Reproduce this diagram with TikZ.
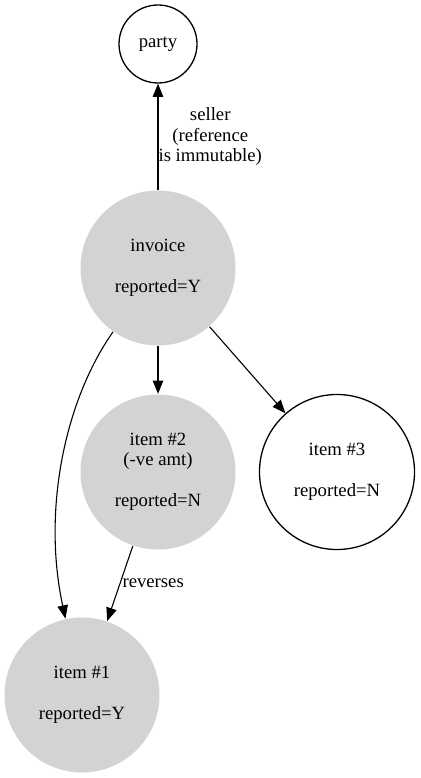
\documentclass[tikz,border=0pt]{standalone}
\usepackage{fontspec}
\setmainfont{Liberation Serif}
\usetikzlibrary{arrows.meta}
\definecolor{nodegray}{RGB}{211,211,211}
\begin{document}
\begin{tikzpicture}[x=1pt, y=-1pt,
state/.style={circle, draw, line width=1.3pt, minimum size=155pt, inner sep=0pt, align=center, font=\fontsize{18.7}{20.5}\selectfont},
done/.style={state, draw=none, fill=nodegray},
edge/.style={line width=1.1pt, -{Triangle[length=13.3pt, width=10.5pt]}},
lbl/.style={font=\fontsize{18.7}{20.5}\selectfont, align=center, inner sep=0pt}]
\useasboundingbox (0,0) rectangle (420,778);
\node[state, minimum size=78pt] (party) at (158,44) {party};
\node[done] (invoice) at (158,268) {invoice\\[20.5pt]reported=Y};
\node[done] (item2) at (158,472) {item \#2\\(-ve amt)\\[20.5pt]reported=N};
\node[state] (item3) at (337,472) {item \#3\\[20.5pt]reported=N};
\node[done] (item1) at (82,695) {item \#1\\[20.5pt]reported=Y};
\draw[edge] (invoice) -- node[lbl, midway, right] {seller\\(reference\\is immutable)} (party);
\draw[edge] (invoice) -- (item2);
\draw[edge] (invoice) -- (item3);
\draw[edge] (invoice) .. controls (65,400) and (42,510) .. (item1);
\draw[edge] (item2) -- node[lbl, midway, right, inner sep=2pt] {reverses} (item1);
\end{tikzpicture}
\end{document}
